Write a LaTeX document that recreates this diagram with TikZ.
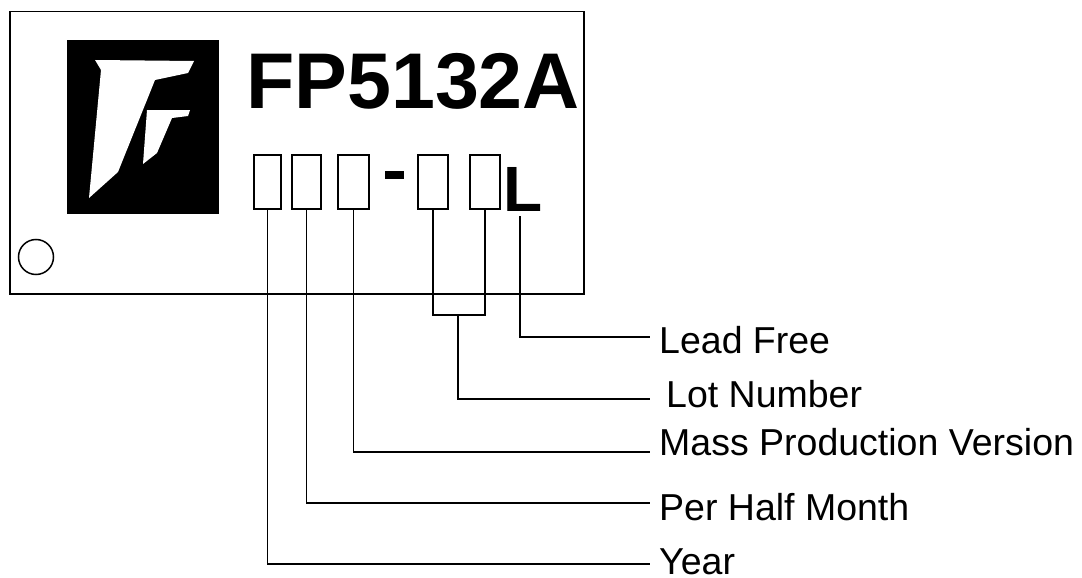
\documentclass[tikz,border=0pt]{standalone}
\usepackage{fontspec}
\setmainfont{Liberation Sans}
\tikzset{
    codebox/.style={draw, line width=1.4pt, inner sep=0pt},
    legend/.style={anchor=base west, inner sep=0pt, font=\fontsize{37.5}{37.5}\selectfont},
    leader/.style={line width=1.4pt},
}
\begin{document}
\begin{tikzpicture}[x=1pt, y=-1pt]
\useasboundingbox (0,0) rectangle (1082,578);
\node[draw, line width=1.5pt, minimum width=574pt, minimum height=282pt, inner sep=0pt, anchor=north west](chip)at(9,11){};
\node[fill=black, minimum width=152pt, minimum height=174pt, inner sep=0pt, anchor=north west](logo)at(67,40){};
\fill[white](95,60)--(194,61)--(188,73)--(155,80)--(118,172)--(89,198)--(101,70)--cycle;
\fill[white](147,110)--(190,110)--(188,116)--(172,118)--(157,153)--(143,164)--cycle;
\node[font=\fontsize{79}{79}\selectfont\bfseries, inner sep=0pt, anchor=base west](partno)at(246,108){FP5132A};
\node[draw, line width=1.5pt, circle, minimum size=35pt, inner sep=0pt](pin)at(36,257){};

%date and lot boxes
\node[codebox, minimum width=27pt, minimum height=54pt](boxa)at(267.5,182){};
\node[codebox, minimum width=29pt, minimum height=54pt](boxb)at(306.5,182){};
\node[codebox, minimum width=31pt, minimum height=54pt](boxc)at(353.5,182){};
\node[fill=black, minimum width=19pt, minimum height=8pt, inner sep=0pt](dash)at(394.5,175){};
\node[codebox, minimum width=30pt, minimum height=54pt](boxd)at(433,182){};
\node[codebox, minimum width=30pt, minimum height=54pt](boxe)at(485,182){};
\node[font=\fontsize{64}{64}\selectfont\bfseries, inner sep=0pt, anchor=base west](leadl)at(503,211){L};

%legend
\node[legend](leadtext)at(659,353){Lead Free};
\node[legend](lottext)at(666,407){Lot Number};
\node[legend](masstext)at(659,455){Mass Production Version};
\node[legend](halftext)at(659,520){Per Half Month};
\node[legend](yeartext)at(659,574){Year};
\coordinate(lotjoin)at(458,315);
\coordinate(leadtop)at(520,216);
\coordinate(leadend)at(650,337);
\coordinate(lotend)at(650,399);
\coordinate(massend)at(650,452);
\coordinate(halfend)at(650,503);
\coordinate(yearend)at(650,564);

%leaders
\draw[leader](boxa.south)|-(yearend);
\draw[leader](boxb.south)|-(halfend);
\draw[leader](boxc.south)|-(massend);
\draw[leader](boxd.south)|-(lotjoin);
\draw[leader](boxe.south)|-(lotjoin);
\draw[leader](lotjoin)|-(lotend);
\draw[leader](leadtop)|-(leadend);
\end{tikzpicture}
\end{document}
